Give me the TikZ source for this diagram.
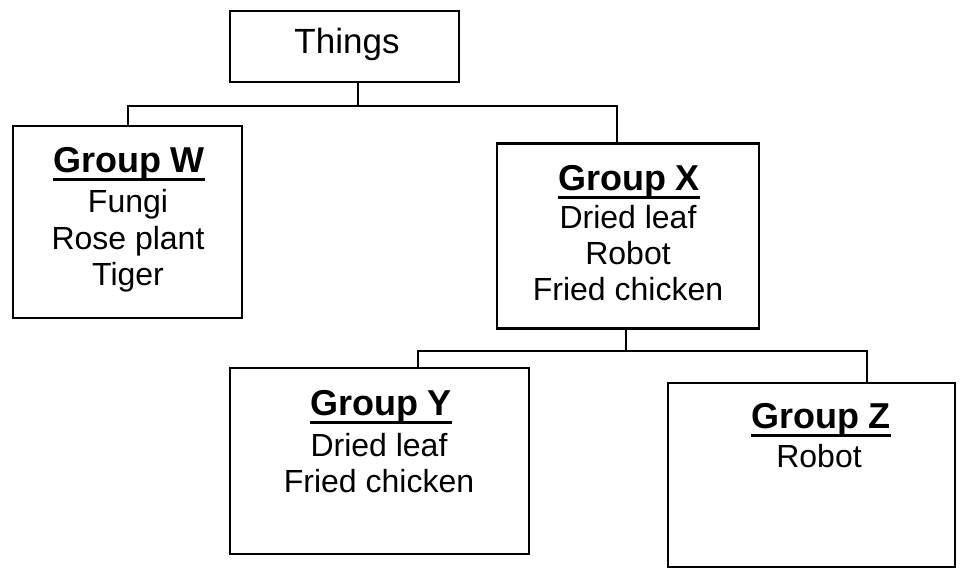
\documentclass[tikz,border=0pt]{standalone}
\usepackage{fontspec}
\setmainfont{Liberation Sans}
\newcommand\ulhead[1]{\setbox0\hbox{#1}\rlap{\rule[-9pt]{\wd0}{2.6pt}}\box0}
\begin{document}
\begin{tikzpicture}[x=1pt,y=-1pt,
  box/.style={draw=black,line width=2.4pt,inner sep=0pt,minimum width=#1},
  conn/.style={draw=black,line width=2.4pt},
  head/.style={anchor=base,inner sep=0pt,font=\fontsize{36}{40}\selectfont\bfseries},
  item/.style={anchor=base,inner sep=0pt,font=\fontsize{32}{36}\selectfont}]
\useasboundingbox[fill=white] (0,0) rectangle (960,572);
% boxes
\node[box=229pt,minimum height=71pt] (things) at (344.5,46.5) {};
\node[box=229pt,minimum height=192pt] (W) at (127.5,222) {};
\node[box=262pt,minimum height=185pt] (X) at (628,236) {};
\node[box=299pt,minimum height=186pt] (Y) at (379.5,461) {};
\node[box=287pt,minimum height=184pt] (Z) at (811.5,475) {};
% texts
\node[item,font=\fontsize{35}{40}\selectfont] (tt) at (347,54) {Things};
\node[head] (wh) at (129,172) {\ulhead{Group W}};
\node[item] (w1) at (128,212) {Fungi};
\node[item] (w2) at (128,249) {Rose plant};
\node[item] (w3) at (128,285) {Tiger};
\node[head] (xh) at (629,190) {\ulhead{Group X}};
\node[item] (x1) at (628,228) {Dried leaf};
\node[item] (x2) at (628,264) {Robot};
\node[item] (x3) at (628,300) {Fried chicken};
\node[head] (yh) at (381,415) {\ulhead{Group Y}};
\node[item] (y1) at (379,456) {Dried leaf};
\node[item] (y2) at (379,492) {Fried chicken};
\node[head] (zh) at (821,428) {\ulhead{Group Z}};
\node[item] (z1) at (819,467) {Robot};
% connectors
\coordinate (j1) at (358,106);
\coordinate (dW) at (128,106);
\coordinate (dX) at (617,106);
\draw[conn] (things.south -| j1) -- (j1);
\draw[conn] (W.north -| dW) -- (dW) -- (dX) -- (X.north -| dX);
\coordinate (j2) at (626,351);
\coordinate (dY) at (418,351);
\coordinate (dZ) at (867,351);
\draw[conn] (X.south -| j2) -- (j2);
\draw[conn] (Y.north -| dY) -- (dY) -- (dZ) -- (Z.north -| dZ);
\end{tikzpicture}
\end{document}
